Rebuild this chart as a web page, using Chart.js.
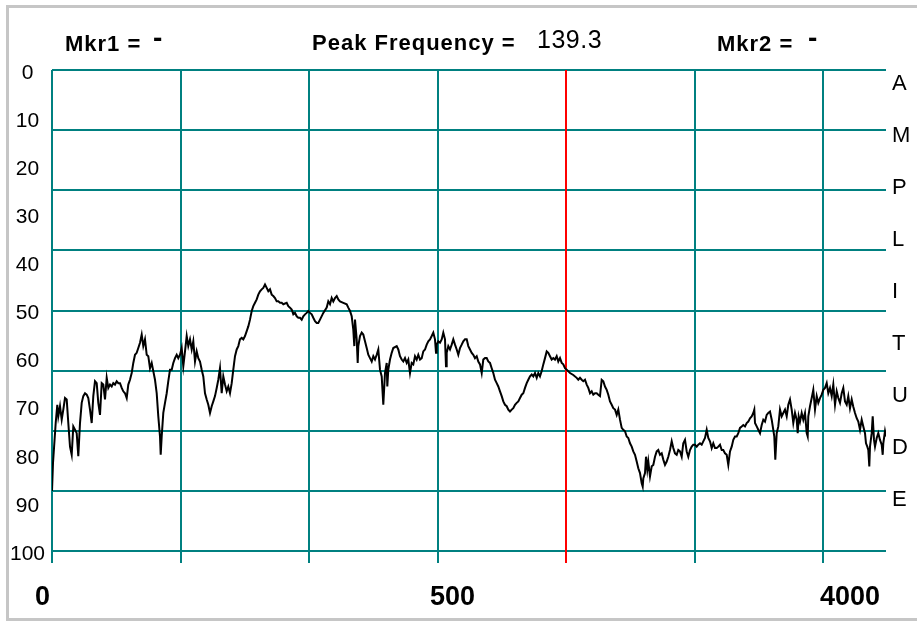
<!DOCTYPE html>
<html>
<head>
<meta charset="utf-8">
<script src="https://cdn.jsdelivr.net/npm/chart.js@4.4.1/dist/chart.umd.min.js"></script>
<style>
  html, body { margin: 0; padding: 0; background: #fff; width: 917px; height: 622px; overflow: hidden; }
  #frame { position: absolute; left: 6px; top: 5px; width: 930px; height: 610px;
           border: 3px solid #c6c6c6; border-right: none; }
  #wrap { position: absolute; left: 0; top: 0; width: 917px; height: 622px; }
</style>
</head>
<body>
<div id="frame"></div>
<div id="wrap"><canvas id="c" width="917" height="622"></canvas></div>
<script>
// Spectrum trace as [bin, amplitude] pairs (amplitude 0 at the top of the scale, 100 at the bottom)
const traceLow = [
  [0, 87.5], [1, 81.7], [3.7, 73.4], [5.3, 69.6], [6.3, 72.0], [8, 69.9], [9.7, 72.7], [11.3, 70.6],
  [13, 68.2], [14.7, 68.5], [16.3, 73.4], [18, 78.3], [19.7, 80.0], [21.3, 74.1], [23, 74.8], [24.7, 75.5],
  [26.3, 80.3], [28, 73.4], [29.7, 69.2], [31.3, 67.8], [33, 67.2], [34.7, 67.5], [36.3, 68.2], [38, 70.6],
  [39.7, 73.4], [41.3, 67.8], [43, 64.7], [44.7, 65.1], [46.3, 69.2], [48, 71.7], [49.7, 65.1], [51.3, 65.4],
  [53, 68.5], [54.7, 64.0], [56.3, 66.1], [58, 65.4], [59.7, 65.8], [61.3, 65.1], [63, 65.4], [64.7, 64.7],
  [66.3, 65.1], [68, 65.1], [69.7, 66.1], [71.3, 66.8], [73, 67.2], [74.7, 68.2], [76.3, 65.4], [78, 64.4],
  [79.7, 63.0], [81.3, 60.9], [83, 59.2], [84.7, 58.8], [86.3, 57.8], [88, 56.7], [89.7, 55.0], [91.3, 57.4],
  [93, 56.0], [94.7, 59.2], [96.3, 59.5], [98, 62.0], [99.7, 60.9], [101.3, 62.6], [103, 64.4], [104.7, 67.2],
  [106.3, 72.0], [108, 76.2], [108.7, 80.0], [109.7, 76.2], [111.3, 71.3], [113, 69.2], [114.7, 67.2], [116.3, 64.7],
  [118, 62.3], [119.7, 62.3], [121.3, 60.9], [123, 59.9], [124.7, 59.2], [126.3, 59.9], [128, 59.2], [129.7, 57.8],
  [131.3, 61.6], [133, 58.5], [134.7, 55.3], [136.3, 57.4], [138, 56.0], [139.7, 58.1], [141.3, 56.4], [143, 60.6],
  [144.7, 58.5], [146.3, 59.9], [148, 60.6], [149.7, 62.3], [151.3, 63.7], [153, 67.2], [154.7, 68.5], [156.3, 69.6],
  [158, 71.3], [159.7, 69.9], [161.3, 68.9], [163, 67.8], [164.7, 66.1], [166.3, 64.4], [168, 62.0], [169.7, 67.2],
  [171.3, 63.7], [173, 65.4], [174.7, 66.8], [176.3, 65.8], [178, 67.2], [179.7, 65.1], [181.3, 62.3], [183, 59.5],
  [184.7, 58.1], [186.3, 57.4], [188, 56.0], [189.7, 55.7], [191.3, 56.0], [193, 55.3], [194.7, 54.3], [196.3, 53.3],
  [198, 51.9], [199.7, 50.1], [201.3, 49.1], [203, 48.4], [204.7, 47.7], [206.3, 46.7], [208, 46.0], [209.7, 45.6],
  [211.3, 45.3], [213, 44.6], [214.7, 45.3], [216.3, 46.0], [218, 45.6], [219.7, 46.7], [221.3, 47.0], [223, 47.4],
  [224.7, 48.1], [226.3, 48.1], [228, 48.4], [229.7, 48.4], [231.3, 48.7], [234.7, 48.4], [236.3, 49.1], [238, 49.4],
  [239.7, 49.8], [241.3, 50.8], [243, 50.5], [244.7, 51.2], [246.3, 51.5], [248, 51.5], [249.7, 51.9], [251.3, 51.2],
  [253, 50.8], [254.7, 50.5], [256.3, 50.1], [258, 50.5], [259.7, 50.8], [261.3, 51.5], [263, 52.2], [264.7, 52.6]
];

const traceMid = [
  [266.3, 52.6], [268, 51.9], [271.3, 50.5], [274.7, 49.4], [276.3, 48.1], [278, 48.7], [279.7, 47.4], [281.3, 48.1],
  [283, 47.4], [284.7, 47.0], [286.3, 47.7], [288, 48.1], [291.3, 48.4], [294.7, 48.7], [296.3, 49.4], [298, 50.1],
  [299.7, 51.2], [301.3, 54.0], [302.3, 57.4], [303, 51.9], [304.7, 56.0], [305.7, 60.9], [306.3, 57.4], [308, 55.3],
  [309.7, 54.6], [311.3, 55.0], [313, 56.4], [314.7, 57.8], [316.3, 59.2], [318, 59.9], [319.7, 60.6], [321.3, 59.5],
  [323, 60.2], [324.7, 59.2], [326.3, 58.1], [328, 62.3], [329.7, 63.7], [331.3, 69.6], [333, 63.0], [334.7, 60.9],
  [335.3, 65.8], [336.3, 62.3], [338, 60.2], [339.7, 58.8], [341.3, 57.8], [344.7, 57.4], [346.3, 58.1], [348, 59.5],
  [349.7, 60.2], [351.3, 60.6], [353, 59.9], [354.7, 60.9], [356.3, 60.2], [358, 63.0], [359.7, 60.9], [361.3, 61.2],
  [363, 59.5], [364.7, 60.2], [366.3, 59.2], [368, 60.2], [369.7, 59.9], [371.3, 58.5], [373, 58.1], [374.7, 57.1],
  [376.3, 56.4], [378, 56.0], [379.7, 55.3], [381.3, 54.6], [383, 56.0], [384, 58.8], [384.7, 57.1], [386.3, 56.4],
  [388, 56.7], [389.7, 56.0], [391.3, 54.6], [393, 56.0], [394, 61.6], [394.7, 58.8], [396.3, 57.4], [398, 58.1],
  [399.7, 57.1], [401.3, 56.0], [403, 57.1], [404.7, 58.1], [406.3, 59.2], [408, 57.8], [409.7, 57.1], [411.3, 56.4],
  [413, 56.0], [414.7, 56.0], [416.3, 57.4], [418, 58.1], [419.7, 58.8], [421.3, 59.2], [423, 59.9], [424.7, 59.5],
  [426.3, 60.6], [428, 61.2], [429.7, 63.0], [431.3, 60.2], [433, 59.9], [434.7, 59.9], [436.3, 60.6], [438, 60.9],
  [439.7, 62.0], [441.3, 63.0], [443, 64.4], [444.7, 65.1], [446.3, 65.8], [448, 66.8], [449.7, 67.8], [451.3, 68.9],
  [453, 69.6], [454.7, 69.9], [456.3, 70.6], [458, 71.0], [459.7, 70.6], [461.3, 70.3], [463, 69.6], [464.7, 69.2],
  [466.3, 68.9], [468, 68.2], [469.7, 67.5], [471.3, 67.2], [473, 66.1], [474.7, 65.1], [476.3, 64.4], [478, 63.7],
  [479.7, 63.3], [481.3, 63.7], [483, 63.0], [484.7, 64.0], [486.3, 63.0], [488, 63.7], [489.7, 62.6], [491.3, 61.2],
  [493, 59.9], [494.7, 58.5], [496.3, 58.8], [498, 59.5], [499.7, 60.2], [501.3, 59.9], [503, 60.2], [504.7, 59.5],
  [506.3, 60.6], [508, 59.9], [509.7, 60.9], [511.3, 61.2], [513, 62.0], [514.7, 62.3], [518, 63.0], [521.3, 63.4]
];

const traceHigh = [
  [524.7, 64.0], [526.3, 64.4], [528, 64.0], [529.7, 64.4], [531.3, 64.7], [533, 64.4], [534.7, 65.4], [536.3, 66.1],
  [538, 67.2], [539.7, 66.8], [541.3, 67.5], [543, 67.2], [544.7, 67.2], [546.3, 67.5], [548, 67.8], [549.7, 64.4],
  [551.3, 64.7], [553, 65.8], [554.7, 66.5], [556.3, 67.5], [558, 68.9], [559.7, 69.6], [561.3, 70.3], [563, 70.6],
  [564.7, 71.7], [566.3, 70.6], [568, 72.7], [569.7, 74.4], [571.3, 74.8], [573, 75.1], [574.7, 76.2], [576.3, 76.5],
  [578, 77.6], [579.7, 78.3], [581.3, 79.3], [583, 80.0], [584.7, 81.4], [586.3, 82.8], [588, 83.8], [589.7, 85.9],
  [590.7, 86.6], [591.3, 84.9], [593, 83.8], [594, 80.4], [595.3, 83.1], [596.3, 81.4], [598, 84.5], [599.7, 82.4],
  [601.3, 82.1], [603, 80.4], [604.7, 79.3], [606.3, 79.0], [608, 80.0], [609.7, 79.7], [611.3, 81.0], [613, 82.1],
  [614.7, 81.4], [616.3, 80.4], [618, 79.0], [619.7, 77.2], [621.3, 78.6], [623, 79.7], [624.7, 80.0], [626.3, 79.0],
  [628, 79.3], [629.7, 80.4], [631.3, 77.6], [633, 76.9], [634.7, 79.3], [636.3, 80.4], [638, 79.0], [639.7, 78.3],
  [641.3, 77.9], [643, 77.9], [644.7, 78.3], [646.3, 77.9], [648, 77.6], [649.7, 77.9], [651.3, 77.2], [653, 76.5],
  [654.7, 74.8], [656.3, 76.5], [658, 77.2], [659.7, 78.6], [661.3, 77.6], [663, 78.6], [664.7, 78.6], [666.3, 78.3],
  [668, 77.9], [669.7, 79.0], [671.3, 79.0], [673, 79.7], [674.7, 80.0], [676.3, 82.1], [678, 79.3], [679.7, 78.3],
  [681.3, 76.9], [683, 76.2], [684.7, 76.2], [686.3, 75.5], [688, 74.4], [689.7, 74.1], [691.3, 73.8], [693, 74.1],
  [694.7, 73.4], [696.3, 73.1], [698, 72.4], [699.7, 72.0], [701.3, 71.3], [702.3, 70.6], [703, 73.4], [704.7, 74.1],
  [706.3, 74.8], [708, 75.5], [709.7, 73.8], [711.3, 72.7], [713, 73.1], [714.7, 71.7], [716.3, 71.3], [718, 71.0],
  [719.7, 72.7], [721.3, 74.8], [722.3, 76.2], [723.3, 81.0], [724.7, 75.5], [726.3, 74.1], [728, 70.6], [729.7, 72.0],
  [731.3, 71.3], [733, 70.6], [734.7, 72.0], [736.3, 69.6], [738, 68.5], [739.7, 70.6], [741.3, 73.4], [743, 71.3],
  [744.7, 72.7], [745.7, 75.5], [746.7, 72.0], [748, 73.1], [749.7, 71.3], [751.3, 72.7], [753, 71.3], [754.7, 75.5],
  [755.7, 76.2], [756.3, 72.0], [758, 69.9], [759.7, 68.2], [761.3, 66.5], [763, 70.6], [764.7, 67.8], [766.3, 69.2],
  [768, 68.2], [769.7, 67.5], [771.3, 66.5], [773, 66.1], [774.7, 65.1], [776.3, 67.2], [778, 66.1], [779.7, 67.8],
  [781.3, 65.4], [783, 69.6], [784.7, 66.8], [786.3, 68.2], [788, 69.2], [789.7, 67.2], [791.3, 66.1], [793, 68.9],
  [794.7, 69.6], [796.3, 67.8], [798, 70.3], [799.7, 68.5], [801.3, 70.0], [803, 71.3], [804.7, 72.4], [806.3, 73.1],
  [808, 74.8], [809.7, 72.7], [811.3, 74.1], [813, 75.5], [814, 77.6], [815.3, 78.3], [816.3, 79.0], [817.3, 82.4],
  [818, 78.3], [819.7, 75.5], [820.7, 72.0], [822, 76.9], [823, 78.3], [824.7, 76.5], [826.3, 75.5], [828, 76.9],
  [829.7, 77.9], [830.7, 80.0], [831.3, 77.6], [833, 75.1], [834, 76.2]
];

// Axis labels
const xTickLabels = ['0', '500', '4000'];
const sideLetters = ['A', 'M', 'P', 'L', 'I', 'T', 'U', 'D', 'E'];

// Readouts
const peakFrequency = '139.3';
const marker1Value = '-';
const marker2Value = '-';
const peakBin = 514.3;          // bin where the peak marker sits

// Layout constants
const LAST_BIN = 834;
const BINS_PER_DIV = 128.55;
const X_LABEL_AT = [-9.5, 400.5, 798];
const TEAL = '#008080';
const RED = '#ff0000';
const FONT = '"Liberation Sans", Arial, sans-serif';

const points = traceLow.concat(traceMid, traceHigh).map(([b, v]) => ({ x: b, y: v }));

// Vertical division lines, with the peak marker replacing the division it sits on
function divisionTicks() {
  const t = [];
  for (let k = 0; k * BINS_PER_DIV <= LAST_BIN; k++) {
    const v = k * BINS_PER_DIV;
    if (Math.abs(v - peakBin) > 2) t.push({ value: v });
  }
  t.push({ value: peakBin });
  return t;
}

const headerPlugin = {
  id: 'header',
  afterDraw(chart) {
    const ctx = chart.ctx;
    const items = [
      { text: 'Mkr1 =', x: 65, y: 51, font: 'bold 22px ' + FONT, ls: '1px' },
      { text: marker1Value, x: 153, y: 46.5, font: 'bold 28px ' + FONT, ls: '0px' },
      { text: 'Peak Frequency =', x: 312, y: 50, font: 'bold 22px ' + FONT, ls: '1px' },
      { text: peakFrequency, x: 537, y: 48, font: '25px ' + FONT, ls: '0.5px' },
      { text: 'Mkr2 =', x: 717, y: 51, font: 'bold 22px ' + FONT, ls: '1px' },
      { text: marker2Value, x: 808, y: 46.5, font: 'bold 28px ' + FONT, ls: '0px' }
    ];
    ctx.save();
    ctx.fillStyle = '#000';
    ctx.textAlign = 'left';
    ctx.textBaseline = 'alphabetic';
    items.forEach(it => {
      ctx.font = it.font;
      ctx.letterSpacing = it.ls;
      ctx.fillText(it.text, it.x, it.y);
    });
    ctx.restore();
  }
};

new Chart(document.getElementById('c'), {
  type: 'line',
  data: {
    datasets: [{
      data: points,
      borderColor: '#000',
      borderWidth: 2,
      pointRadius: 0,
      tension: 0,
      fill: false,
      xAxisID: 'x',
      yAxisID: 'y'
    }]
  },
  options: {
    responsive: false,
    animation: false,
    devicePixelRatio: 1,
    events: [],
    layout: { padding: { top: 70, left: 0, right: 0, bottom: 0 } },
    plugins: { legend: { display: false }, tooltip: { enabled: false }, title: { display: false } },
    scales: {
      y: {
        type: 'linear', position: 'right', weight: 0,
        min: 0, max: 100, reverse: true,
        afterBuildTicks: s => { s.ticks = [0, 1, 2, 3, 4, 5, 6, 7, 8].map(k => ({ value: k * 12.5 })); },
        grid: { color: TEAL, lineWidth: 2, drawTicks: false },
        border: { display: false },
        ticks: { display: false },
        afterFit: s => { s.width = 0; s.paddingTop = 0; s.paddingBottom = 0; }
      },
      yl: {
        type: 'linear', position: 'left',
        min: 0, max: 100, reverse: true,
        grid: { display: false, drawTicks: false },
        border: { display: false },
        ticks: {
          stepSize: 10, crossAlign: 'center', padding: 7, labelOffset: 3,
          color: '#000', font: { family: FONT, size: 21 }
        },
        afterFit: s => { s.width = 52; s.paddingTop = 0; s.paddingBottom = 0; }
      },
      yr: {
        type: 'linear', position: 'right', weight: 1,
        min: -0.23, max: 9.012, reverse: true,
        afterBuildTicks: s => { s.ticks = sideLetters.map((_, k) => ({ value: k })); },
        grid: { display: false, drawTicks: false },
        border: { display: false },
        ticks: {
          callback: (v, i) => sideLetters[i], padding: 6, labelOffset: 2,
          color: '#000', font: { family: FONT, size: 22 }, autoSkip: false
        },
        afterFit: s => { s.width = 31; s.paddingTop = 0; s.paddingBottom = 0; }
      },
      x: {
        type: 'linear', position: 'bottom', weight: 0,
        min: 0, max: LAST_BIN,
        afterBuildTicks: s => { s.ticks = divisionTicks(); },
        grid: {
          color: c => (c.tick && c.tick.value === peakBin) ? RED : TEAL,
          lineWidth: 2, drawTicks: true, tickLength: 12
        },
        border: { display: false },
        ticks: { display: false },
        afterFit: s => { s.height = 13; s.paddingLeft = 0; s.paddingRight = 0; }
      },
      xl: {
        type: 'linear', position: 'bottom', weight: 1,
        min: 0, max: LAST_BIN,
        afterBuildTicks: s => { s.ticks = X_LABEL_AT.map(v => ({ value: v })); },
        grid: { display: false, drawTicks: false },
        border: { display: false },
        ticks: {
          callback: (v, i) => xTickLabels[i], padding: 17.5,
          autoSkip: false, maxRotation: 0, minRotation: 0,
          color: '#000', font: { family: FONT, size: 27, weight: 'bold' }
        },
        afterFit: s => { s.height = 58; s.paddingLeft = 0; s.paddingRight = 0; }
      }
    }
  },
  plugins: [headerPlugin]
});
</script>
</body>
</html>
